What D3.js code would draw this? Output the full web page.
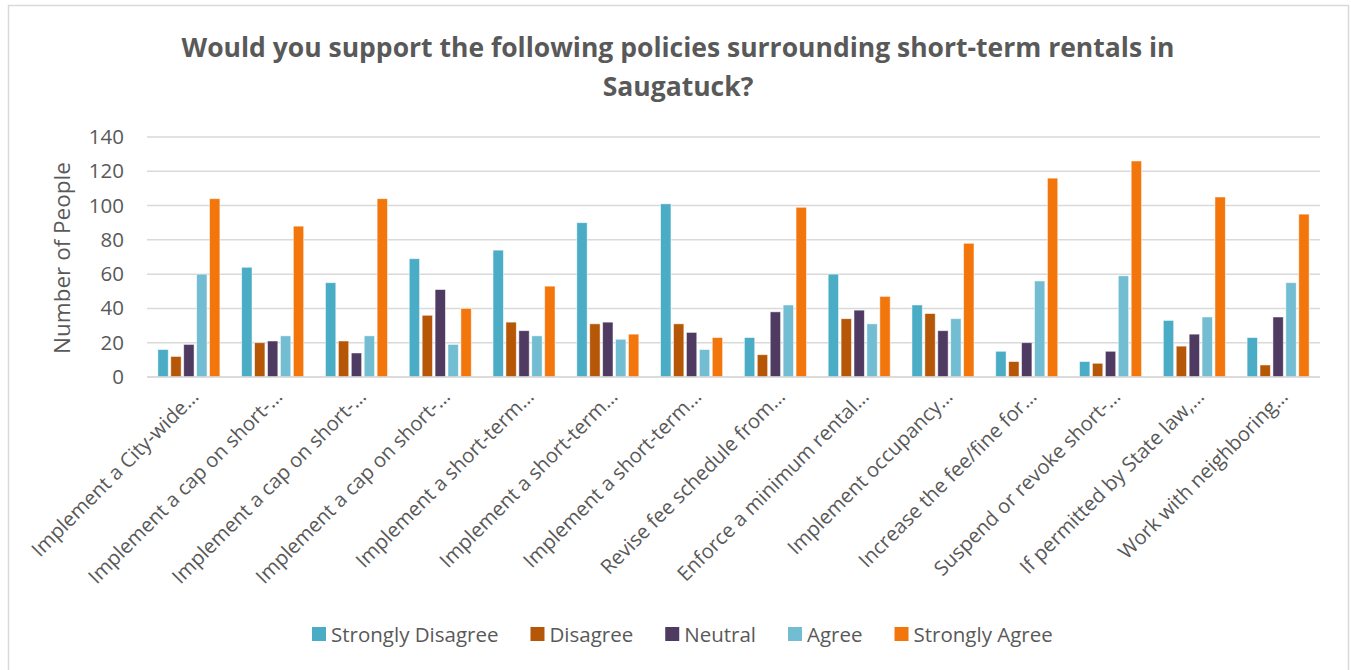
<!DOCTYPE html>
<html>
<head>
<meta charset="utf-8">
<script src="https://cdn.jsdelivr.net/npm/d3@7"></script>
<style>
  body { margin: 0; background: #fff; }
  text { font-family: "Open Sans", "Noto Sans", sans-serif; }
</style>
</head>
<body>
<div id="chart"></div>
<script>
var categories = [
  "Implement a City-wide…",
  "Implement a cap on short-…",
  "Implement a cap on short-…",
  "Implement a cap on short-…",
  "Implement a short-term…",
  "Implement a short-term…",
  "Implement a short-term…",
  "Revise fee schedule from…",
  "Enforce a minimum rental…",
  "Implement occupancy…",
  "Increase the fee/fine for…",
  "Suspend or revoke short-…",
  "If permitted by State law,…",
  "Work with neighboring…"
]

var seriesNames = ["Strongly Disagree", "Disagree", "Neutral", "Agree", "Strongly Agree"]

var stronglyDisagree = [16, 64, 55, 69, 74, 90, 101, 23, 60, 42, 15, 9, 33, 23]
var disagree         = [12, 20, 21, 36, 32, 31, 31, 13, 34, 37, 9, 8, 18, 7]
var neutral          = [19, 21, 14, 51, 27, 32, 26, 38, 39, 27, 20, 15, 25, 35]
var agree            = [60, 24, 24, 19, 24, 22, 16, 42, 31, 34, 56, 59, 35, 55]
var stronglyAgree    = [104, 88, 104, 40, 53, 25, 23, 99, 47, 78, 116, 126, 105, 95]

var yTicks = [0, 20, 40, 60, 80, 100, 120, 140]

var colors = ["#4bacc6", "#b65708", "#4f3b62", "#72bdd2", "#f3760c"]

var series = [stronglyDisagree, disagree, neutral, agree, stronglyAgree]

var width = 1351, height = 670
var margin = {top: 137, right: 31, bottom: 293, left: 147}
var innerW = width - margin.left - margin.right
var innerH = height - margin.top - margin.bottom

var svg = d3.select("#chart").append("svg")
  .attr("width", width)
  .attr("height", height)

// chart frame
svg.append("rect")
  .attr("x", 8.5).attr("y", 5.5)
  .attr("width", 1340).attr("height", 680)
  .attr("fill", "none")
  .attr("stroke", "#d9d9d9")
  .attr("stroke-width", 1.5)

svg.append("text")
  .attr("x", 678).attr("y", 57)
  .attr("text-anchor", "middle")
  .attr("font-size", 26.5).attr("font-weight", "bold")
  .attr("fill", "#595959")
  .text("Would you support the following policies surrounding short-term rentals in")

svg.append("text")
  .attr("x", 678).attr("y", 96)
  .attr("text-anchor", "middle")
  .attr("font-size", 26.5).attr("font-weight", "bold")
  .attr("fill", "#595959")
  .text("Saugatuck?")

var g = svg.append("g")
  .attr("transform", "translate(" + margin.left + "," + margin.top + ")")

var x0 = d3.scaleBand()
  .domain(d3.range(categories.length))
  .range([0, innerW])
  .paddingInner(0.26)
  .paddingOuter(0.13)

var x1 = d3.scaleBand()
  .domain(d3.range(seriesNames.length))
  .range([0, x0.bandwidth()])
  .paddingInner(0.2)
  .paddingOuter(0)

var y = d3.scaleLinear().domain([0, 140]).range([innerH, 0])

// gridlines
g.append("g")
  .selectAll("line")
  .data(yTicks)
  .join("line")
  .attr("x1", 0).attr("x2", innerW)
  .attr("y1", d => y(d)).attr("y2", d => y(d))
  .attr("stroke", "#d9d9d9")
  .attr("stroke-width", 1.5)

// y axis labels
var yAxis = d3.axisLeft(y).tickValues(yTicks).tickSize(0).tickPadding(23)
g.append("g")
  .call(yAxis)
  .call(a => a.select(".domain").remove())
  .selectAll("text")
  .attr("font-size", 20.5)
  .attr("fill", "#595959")
  .attr("font-family", "'Open Sans', sans-serif")

svg.append("text")
  .attr("transform", "translate(70," + (margin.top + innerH / 2 + 1) + ") rotate(-90)")
  .attr("text-anchor", "middle")
  .attr("font-size", 22.5)
  .attr("fill", "#595959")
  .text("Number of People")

// bars
var groups = g.selectAll("g.cat")
  .data(categories)
  .join("g")
  .attr("class", "cat")
  .attr("transform", (d, i) => "translate(" + x0(i) + ",0)")

groups.selectAll("rect")
  .data((d, i) => series.map((s, k) => ({k: k, v: s[i]})))
  .join("rect")
  .attr("x", d => x1(d.k))
  .attr("width", x1.bandwidth())
  .attr("y", d => y(d.v))
  .attr("height", d => innerH - y(d.v))
  .attr("fill", d => colors[d.k])
  .attr("stroke", "#fff")
  .attr("stroke-opacity", 0.6)
  .attr("stroke-width", 0.8)

// x axis line
g.append("line")
  .attr("x1", 0).attr("x2", innerW)
  .attr("y1", innerH).attr("y2", innerH)
  .attr("stroke", "#d9d9d9")
  .attr("stroke-width", 1.5)

// x labels rotated
g.append("g")
  .selectAll("text")
  .data(categories)
  .join("text")
  .attr("transform", (d, i) => "translate(" + (x0(i) + x0.bandwidth() / 2 + 11) + "," + (innerH + 21) + ") rotate(-45)")
  .attr("text-anchor", "end")
  .attr("font-size", 20.2)
  .attr("fill", "#595959")
  .text(d => d)

// legend
var legend = svg.append("g").attr("transform", "translate(0,634)")
var lx = 312
seriesNames.forEach(function(name, k) {
  var item = legend.append("g").attr("transform", "translate(" + lx + ",0)")
  item.append("rect")
    .attr("x", 0).attr("y", -7)
    .attr("width", 14).attr("height", 14)
    .attr("fill", colors[k])
  var t = item.append("text")
    .attr("x", 19).attr("y", 7.5)
    .attr("font-size", 20.5)
    .attr("fill", "#595959")
    .text(name)
  lx += 19 + t.node().getComputedTextLength() + 32
})
</script>
</body>
</html>
